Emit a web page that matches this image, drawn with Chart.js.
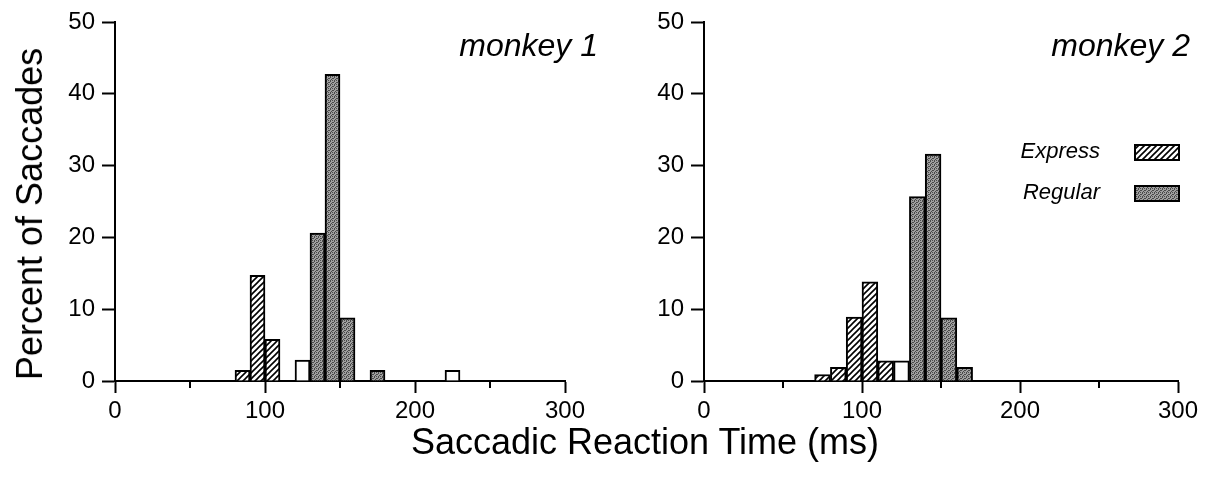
<!DOCTYPE html>
<html>
<head>
<meta charset="utf-8">
<script src="https://cdn.jsdelivr.net/npm/chart.js@4.4.1/dist/chart.umd.min.js"></script>
<style>
    body { margin: 0; background: #fff; }
    #wrap { position: relative; width: 1218px; height: 482px; overflow: hidden; background: #fff; font-family: "Liberation Sans", Arial, sans-serif; }
    canvas { position: absolute; top: 0; }
    #c1 { left: 0; }
    #c2 { left: 600px; }
    .axTitle { position: absolute; font-size: 36px; color: #000; white-space: nowrap; }
    #yTitle { left: 30px; top: 214px; transform: translate(-50%, -50%) rotate(-90deg); }
    #xTitle { left: 645px; top: 442px; transform: translate(-50%, -50%); }
</style>
</head>
<body>
<div id="wrap">
    <canvas id="c1" width="620" height="440"></canvas>
    <canvas id="c2" width="618" height="440"></canvas>
    <div id="yTitle" class="axTitle">Percent of Saccades</div>
    <div id="xTitle" class="axTitle">Saccadic Reaction Time (ms)</div>
</div>
<script>
// bin centres (ms) and percent of saccades
const m1ExpressBins = [85, 95, 105];
const m1ExpressPct = [1.5, 14.7, 5.8];
const m1RegularBins = [135, 145, 155, 175];
const m1RegularPct = [20.6, 42.7, 8.8, 1.5];
const m1OtherBins = [125, 225];
const m1OtherPct = [2.9, 1.5];

const m2ExpressBins = [75, 85, 95, 105, 115];
const m2ExpressPct = [0.9, 1.9, 8.9, 13.8, 2.8];
const m2RegularBins = [135, 145, 155, 165];
const m2RegularPct = [25.7, 31.6, 8.8, 1.9];
const m2OtherBins = [125];
const m2OtherPct = [2.8];

const xTicks = [0, 100, 200, 300];
const xMinorTicks = [50, 150, 250];
const yTicks = [0, 10, 20, 30, 40, 50];

const FONT = '"Liberation Sans", Arial, sans-serif';

function toPoints(bins, pct) {
    return bins.map((b, i) => ({ x: b, y: pct[i] }));
}

function hatchPattern() {
    const c = document.createElement('canvas');
    c.width = 6; c.height = 6;
    const g = c.getContext('2d');
    g.fillStyle = '#fff';
    g.fillRect(0, 0, 6, 6);
    g.strokeStyle = '#000';
    g.lineWidth = 1.6;
    g.beginPath();
    g.moveTo(0, 6); g.lineTo(6, 0);
    g.moveTo(-2, 2); g.lineTo(2, -2);
    g.moveTo(4, 8); g.lineTo(8, 4);
    g.stroke();
    return g.createPattern(c, 'repeat');
}

function stipplePattern() {
    const c = document.createElement('canvas');
    c.width = 4; c.height = 4;
    const g = c.getContext('2d');
    g.fillStyle = '#a0a0a0';
    g.fillRect(0, 0, 4, 4);
    g.fillStyle = '#4a4a4a';
    g.fillRect(0, 0, 1, 1); g.fillRect(2, 1, 1, 1);
    g.fillRect(1, 2, 1, 1); g.fillRect(3, 3, 1, 1);
    g.fillRect(2, 0, 1, 1); g.fillRect(0, 2, 1, 1);
    return g.createPattern(c, 'repeat');
}

const hatch = hatchPattern();
const stipple = stipplePattern();

// minor x ticks, panel label and legend drawn on top of each chart
const extras = {
    id: 'extras',
    afterDraw(chart, args, opts) {
        const ctx = chart.ctx;
        const xs = chart.scales.x;
        const bottom = chart.chartArea.bottom;
        ctx.save();
        ctx.strokeStyle = '#000';
        ctx.lineWidth = 2;
        xMinorTicks.forEach(v => {
            const px = Math.round(xs.getPixelForValue(v));
            ctx.beginPath();
            ctx.moveTo(px, bottom);
            ctx.lineTo(px, bottom + 7);
            ctx.stroke();
        });

        ctx.fillStyle = '#000';
        ctx.font = 'italic 32px ' + FONT;
        ctx.textAlign = 'right';
        ctx.textBaseline = 'alphabetic';
        ctx.fillText(opts.label, opts.labelX, opts.labelY);

        if (opts.legend) {
            ctx.font = 'italic 22px ' + FONT;
            ctx.textBaseline = 'middle';
            chart.data.datasets.forEach(ds => {
                if (!ds.inLegend) return;
                const row = opts.legend.rows[ds.label];
                ctx.fillStyle = '#000';
                ctx.fillText(ds.label, opts.legend.textX, row);
                ctx.fillStyle = ds.backgroundColor;
                ctx.fillRect(opts.legend.boxX, row - 7, 44, 15);
                ctx.strokeStyle = '#000';
                ctx.lineWidth = 2;
                ctx.strokeRect(opts.legend.boxX, row - 7, 44, 15);
            });
        }
        ctx.restore();
    }
};

function makeChart(id, express, regular, other, yWidth, padRight, extraOpts) {
    const barBase = {
        grouped: false,
        borderColor: '#000',
        borderWidth: 2,
        barPercentage: 1,
        categoryPercentage: 1
    };
    return new Chart(document.getElementById(id), {
        type: 'bar',
        data: {
            datasets: [
                Object.assign({ label: 'Express', data: express, backgroundColor: hatch, inLegend: true }, barBase),
                Object.assign({ label: 'Regular', data: regular, backgroundColor: stipple, inLegend: true }, barBase),
                Object.assign({ label: 'Other', data: other, backgroundColor: '#fff', inLegend: false }, barBase)
            ]
        },
        options: {
            responsive: false,
            animation: false,
            layout: { padding: { left: 0, top: 22, right: padRight, bottom: 0 } },
            plugins: {
                legend: { display: false },
                tooltip: { enabled: false },
                extras: extraOpts
            },
            scales: {
                x: {
                    type: 'linear',
                    min: 0,
                    max: 300,
                    offset: false,
                    afterBuildTicks: s => { s.ticks = xTicks.map(v => ({ value: v })); },
                    ticks: { color: '#000', font: { family: FONT, size: 24 }, padding: 4, maxRotation: 0 },
                    grid: { offset: false, drawOnChartArea: false, drawTicks: true, tickLength: 12, tickWidth: 2, tickColor: '#000' },
                    border: { display: true, color: '#000', width: 2 },
                    afterFit: s => { s.height = 59; }
                },
                y: {
                    min: 0,
                    max: 50,
                    afterBuildTicks: s => { s.ticks = yTicks.map(v => ({ value: v })); },
                    ticks: { color: '#000', font: { family: FONT, size: 24 }, padding: 7 },
                    grid: { drawOnChartArea: false, drawTicks: true, tickLength: 13, tickWidth: 2, tickColor: '#000' },
                    border: { display: true, color: '#000', width: 2 },
                    afterFit: s => { s.width = yWidth; }
                }
            }
        },
        plugins: [extras]
    });
}

makeChart('c1',
    toPoints(m1ExpressBins, m1ExpressPct),
    toPoints(m1RegularBins, m1RegularPct),
    toPoints(m1OtherBins, m1OtherPct),
    115, 55,
    { label: 'monkey 1', labelX: 598, labelY: 56 });

makeChart('c2',
    toPoints(m2ExpressBins, m2ExpressPct),
    toPoints(m2RegularBins, m2RegularPct),
    toPoints(m2OtherBins, m2OtherPct),
    104, 40,
    {
        label: 'monkey 2', labelX: 590, labelY: 56,
        legend: { textX: 500, boxX: 535, rows: { Express: 152, Regular: 193 } }
    });
</script>
</body>
</html>
